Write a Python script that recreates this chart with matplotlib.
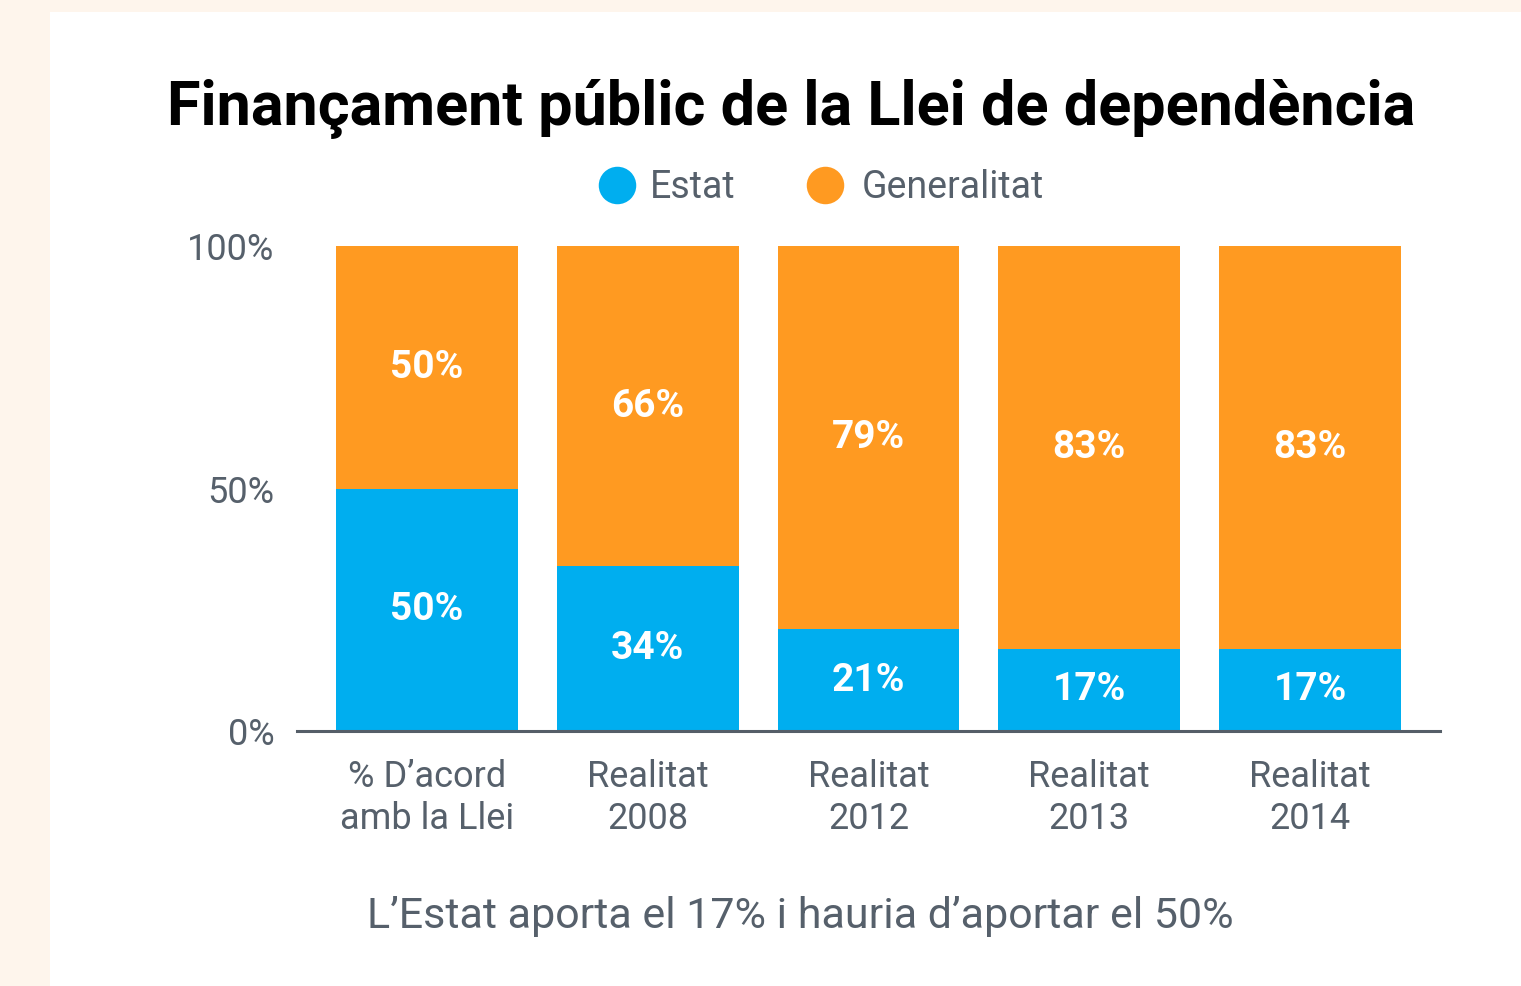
import matplotlib
matplotlib.use("Agg")
import matplotlib.pyplot as plt
from matplotlib.patches import Rectangle
from matplotlib.lines import Line2D

categories = ["% D\u2019acord\namb la Llei", "Realitat\n2008", "Realitat\n2012", "Realitat\n2013", "Realitat\n2014"]
estat = [50, 34, 21, 17, 17]
generalitat = [50, 66, 79, 83, 83]
yticks = [0, 50, 100]
ytick_labels = ["0%", "50%", "100%"]
series_names = ["Estat", "Generalitat"]

BLUE = "#00AEEF"
ORANGE = "#FF9A21"
GRAY = "#56606B"
BG = "#FEF5EC"
FONT = "Roboto"

W, H = 1521, 986
fig = plt.figure(figsize=(W / 100, H / 100), dpi=100)
fig.patch.set_facecolor(BG)
fig.patches.append(Rectangle((50 / W, 0), 1, 1 - 12 / H, transform=fig.transFigure,
                             facecolor="white", edgecolor="none", zorder=-10))

ax = fig.add_axes([297 / W, 1 - 731 / H, (1440 - 297) / W, (731 - 246) / H])
ax.set_facecolor("none")
x = list(range(len(categories)))
bw = 182 / 220.75
ax.bar(x, estat, width=bw, color=BLUE, zorder=2)
ax.bar(x, generalitat, bottom=estat, width=bw, color=ORANGE, zorder=2)
ax.set_xlim(-0.589, len(categories) - 1 + 0.589)
ax.set_ylim(0, 100)

for i in x:
    ax.text(i, estat[i] / 2, f"{estat[i]}%", ha="center", va="center", color="white",
            fontsize=28, fontweight="bold", family=FONT, zorder=3)
    ax.text(i, estat[i] + generalitat[i] / 2, f"{generalitat[i]}%", ha="center", va="center",
            color="white", fontsize=28, fontweight="bold", family=FONT, zorder=3)

for s in ["top", "right", "left"]:
    ax.spines[s].set_visible(False)
ax.spines["bottom"].set_color("#555E68")
ax.spines["bottom"].set_linewidth(2.2)
ax.spines["bottom"].set_zorder(4)
ax.set_yticks(yticks)
ax.set_yticklabels(ytick_labels, family=FONT, fontsize=26, color=GRAY)
ax.tick_params(axis="y", length=0, pad=16)
ax.set_xticks(x)
ax.set_xticklabels(categories, family=FONT, fontsize=26, color=GRAY, linespacing=1.22)
ax.tick_params(axis="x", length=0, pad=20)

fig.text(791 / W, 1 - 125 / H, "Finan\u00e7ament p\u00fablic de la Llei de depend\u00e8ncia",
         ha="center", va="baseline", fontsize=44, fontweight="bold", family=FONT, color="black")

# legend
for cx, col, lx, name in [(617, BLUE, 650, series_names[0]), (825, ORANGE, 862, series_names[1])]:
    fig.add_artist(Line2D([cx / W], [1 - 185 / H], transform=fig.transFigure, marker="o",
                          markersize=27, markerfacecolor=col, markeredgecolor="none",
                          linestyle="none"))
    fig.text(lx / W, 1 - 187 / H, name, ha="left", va="center", fontsize=27,
             family=FONT, color=GRAY)

fig.text(800 / W, 1 - 928 / H, "L\u2019Estat aporta el 17% i hauria d\u2019aportar el 50%",
         ha="center", va="baseline", fontsize=31, family=FONT, color=GRAY)

fig.savefig("out.png", dpi=100, facecolor=fig.get_facecolor())
